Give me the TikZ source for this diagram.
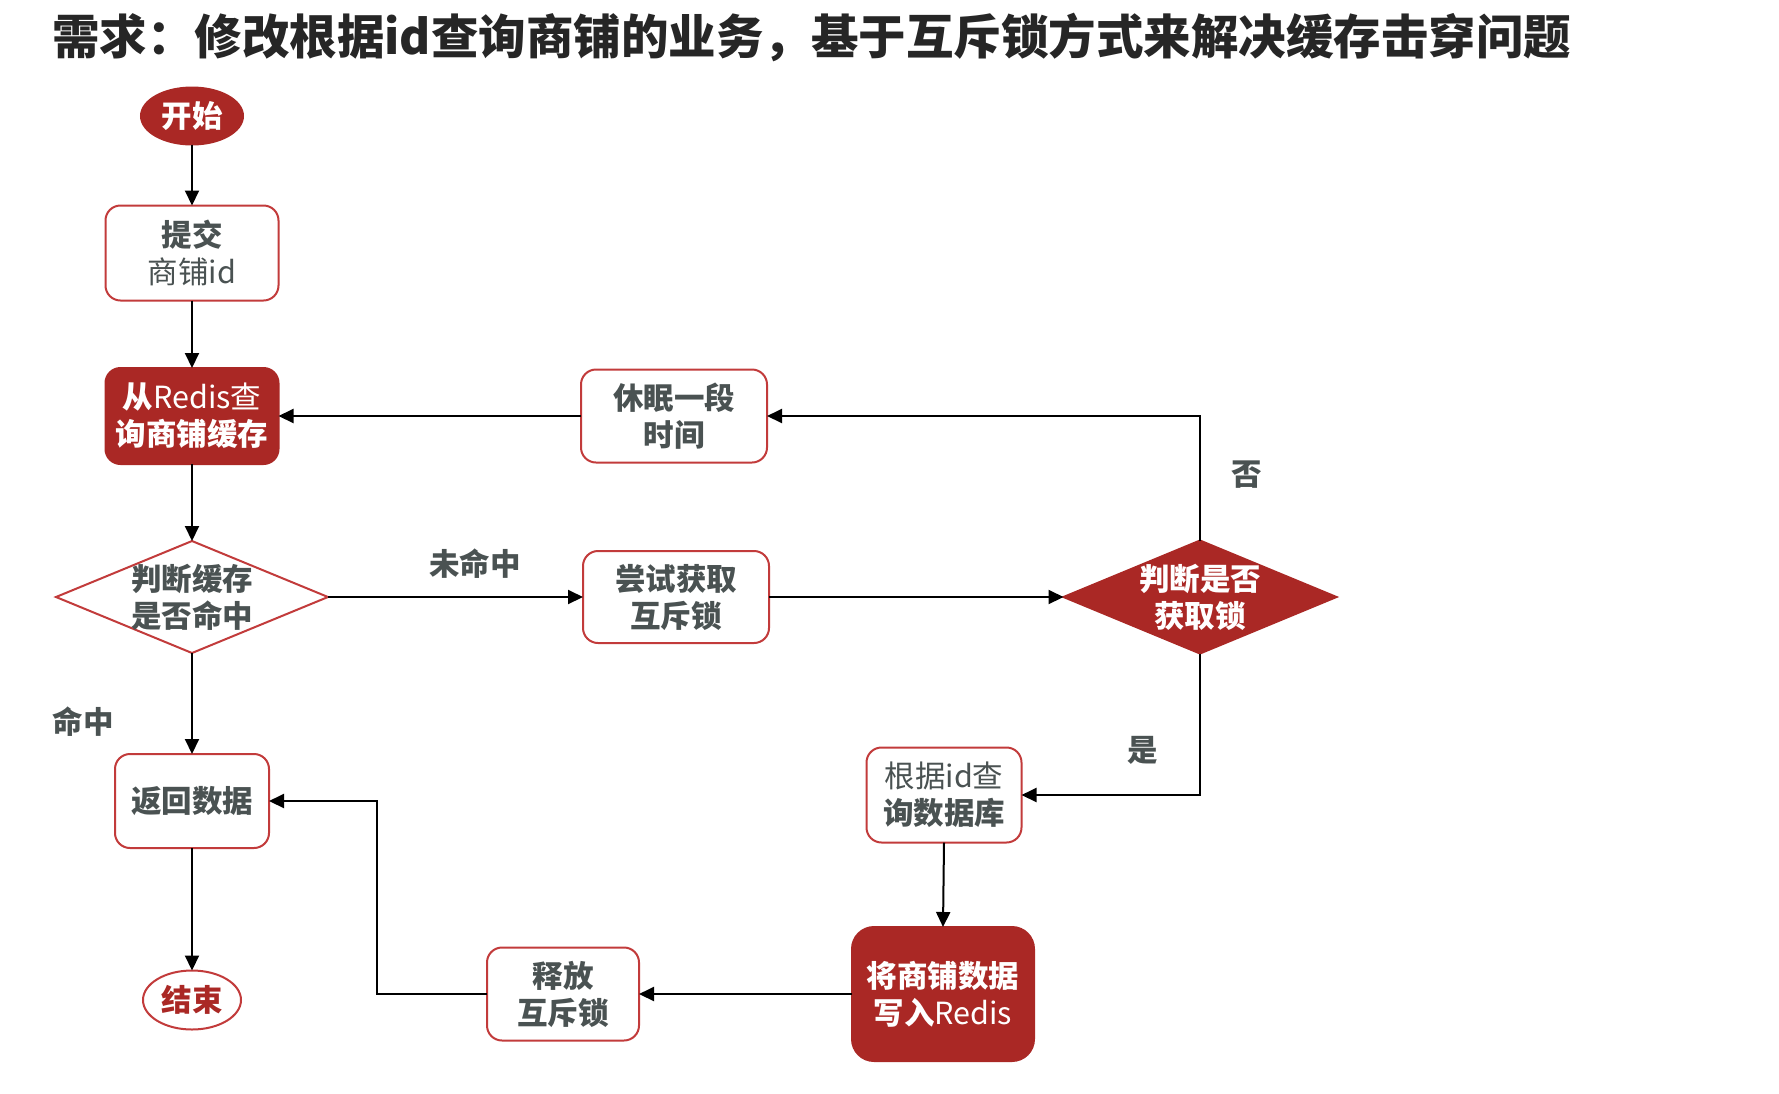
\documentclass[tikz,border=0pt]{standalone}
\usepackage{fontspec}
\setmainfont{Noto Sans CJK SC}
\usetikzlibrary{arrows.meta,shapes.geometric}
\definecolor{dred}{HTML}{AA2825}
\definecolor{bred}{HTML}{C23B3B}
\definecolor{tgray}{HTML}{4A5252}
\begin{document}
\begin{tikzpicture}[x=1pt,y=-1pt,
  every node/.style={inner sep=0pt,outer sep=0pt},
  nfont/.style={font=\fontsize{30.5}{37}\selectfont\bfseries},
  wbox/.style={nfont,align=center,draw=bred,line width=2pt,fill=white,rounded corners=15pt,text=tgray},
  rbox/.style={nfont,align=center,draw=dred,line width=2pt,fill=dred,rounded corners=15pt,text=white},
  wdia/.style={diamond,draw=bred,line width=2pt,fill=white},
  rdia/.style={diamond,draw=dred,line width=2pt,fill=dred},
  dtxt/.style={nfont,align=center},
  lbl/.style={nfont,text=tgray},
  arr/.style={line width=2pt,-{Triangle[length=15pt,width=14pt]}}
]
\useasboundingbox (0,0) rectangle (1779,1093);
\node[anchor=west,text=black!85,font=\fontsize{47.5}{50}\selectfont\bfseries] (title) at (52,37) {需求：修改根据id查询商铺的业务，基于互斥锁方式来解决缓存击穿问题};

\node[nfont,ellipse,fill=dred,draw=dred,line width=2pt,minimum width=102pt,minimum height=57pt,text=white] (start) at (192,116) {开始};
\node[wbox,minimum width=173pt,minimum height=95pt] (submit) at (192,253) {提交\\\mdseries 商铺id};
\node[rbox,minimum width=173pt,minimum height=96pt] (query) at (192,416) {从{\mdseries Redis查}\\询商铺缓存};
\node[wdia,minimum width=272pt,minimum height=112pt] (hit) at (192,597) {};
\node[dtxt,text=tgray] (hittxt) at (hit) {判断缓存\\是否命中};
\node[wbox,minimum width=154pt,minimum height=94pt] (ret) at (192,801) {返回数据};
\node[nfont,ellipse,fill=white,draw=bred,line width=2pt,minimum width=98pt,minimum height=59pt,text=dred] (end) at (192,1000) {结束};

\node[wbox,minimum width=186pt,minimum height=93pt] (sleep) at (674,416) {休眠一段\\时间};
\node[wbox,minimum width=186pt,minimum height=92pt] (try) at (676,597) {尝试获取\\互斥锁};
\node[rdia,minimum width=273pt,minimum height=113pt] (got) at (1200,597) {};
\node[dtxt,text=white] (gottxt) at (got) {判断是否\\获取锁};
\node[wbox,minimum width=155pt,minimum height=95pt] (db) at (944,795) {\mdseries 根据id查\\询\bfseries 数据库};
\node[rbox,rounded corners=22pt,minimum width=182pt,minimum height=134pt] (write) at (943,994) {将商铺数据\\写入{\mdseries Redis}};
\node[wbox,minimum width=152pt,minimum height=93pt] (rel) at (563,994) {释放\\互斥锁};

\node[lbl] (lhit) at (83,722) {命中};
\node[lbl] (lmiss) at (475,564) {未命中};
\node[lbl] (lno) at (1247,475) {否};
\node[lbl] (lyes) at (1143,750) {是};

\coordinate (c1) at (1200,416);
\coordinate (c2) at (1200,795);
\coordinate (c3) at (377,994);
\coordinate (c4) at (377,801);

\draw[arr] (start) -- (submit);
\draw[arr] (submit) -- (query);
\draw[arr] (query) -- (hit.north);
\draw[arr] (hit.south) -- (ret);
\draw[arr] (ret) -- (end);
\draw[arr] (hit.east) -- (try.west);
\draw[arr] (try.east) -- (got.west);
\draw[arr] (got.north) -- (c1) -- (sleep.east);
\draw[arr] (sleep.west) -- (query.east);
\draw[arr] (got.south) -- (c2) -- (db.east);
\draw[arr] (db.south) -- (write.north);
\draw[arr] (write.west) -- (rel.east);
\draw[arr] (rel.west) -- (c3) -- (c4) -- (ret.east);
\end{tikzpicture}
\end{document}
